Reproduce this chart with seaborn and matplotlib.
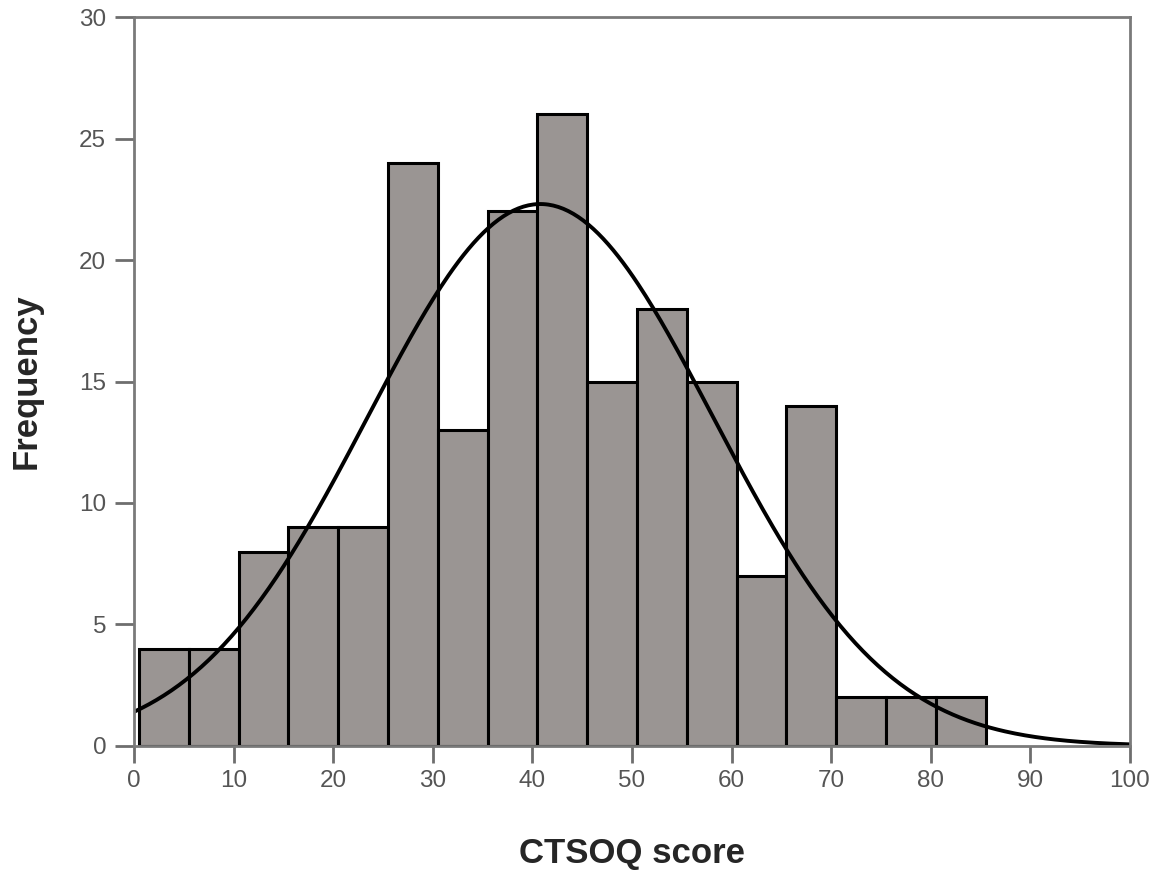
import numpy as np
import pandas as pd
import matplotlib
matplotlib.use("Agg")
import matplotlib.pyplot as plt
import seaborn as sns

# binned frequencies (bin width 5, starting at 0.5)
bin_edges = [0.5, 5.5, 10.5, 15.5, 20.5, 25.5, 30.5, 35.5, 40.5, 45.5,
             50.5, 55.5, 60.5, 65.5, 70.5, 75.5, 80.5, 85.5]
counts = [4, 4, 8, 9, 9, 24, 13, 22, 26, 15, 18, 15, 7, 14, 2, 2, 2]
# fitted normal curve parameters
mean_score = 40.8
sd_score = 17.35

centers = [(a + b) / 2 for a, b in zip(bin_edges[:-1], bin_edges[1:])]
df = pd.DataFrame({"score": centers, "freq": counts})

sns.set_style("white")
plt.rcParams["font.family"] = ["Liberation Sans", "DejaVu Sans"]

fig = plt.figure(figsize=(11.63, 8.74), dpi=100)
ax = fig.add_axes([0.1152, 0.1465, 0.8564, 0.834])

sns.histplot(data=df, x="score", weights="freq", bins=bin_edges,
             color="#9a9593", alpha=1, edgecolor="black", linewidth=2.2, ax=ax)

n = sum(counts)
width = bin_edges[1] - bin_edges[0]
xs = np.linspace(0, 100, 400)
ys = n * width / (sd_score * np.sqrt(2 * np.pi)) * np.exp(-(xs - mean_score) ** 2 / (2 * sd_score ** 2))
sns.lineplot(x=xs, y=ys, color="black", linewidth=2.8, ax=ax)

ax.set_xlim(0, 100)
ax.set_ylim(0, 30)
ax.set_xticks(range(0, 101, 10))
ax.set_yticks(range(0, 31, 5))
ax.tick_params(axis="both", direction="out", width=2, color="#6e6e6e",
               labelcolor="#555555", labelsize=17.5, bottom=True, left=True)
ax.tick_params(axis="y", length=14, pad=6)
ax.tick_params(axis="x", length=12, pad=5)
for s in ax.spines.values():
    s.set_color("#7a7a7a")
    s.set_linewidth(2)
ax.set_xlabel("CTSOQ score", fontsize=25, fontweight="bold", labelpad=33)
ax.set_ylabel("Frequency", fontsize=25, fontweight="bold", labelpad=26)

plt.savefig("out.png", dpi=100)
